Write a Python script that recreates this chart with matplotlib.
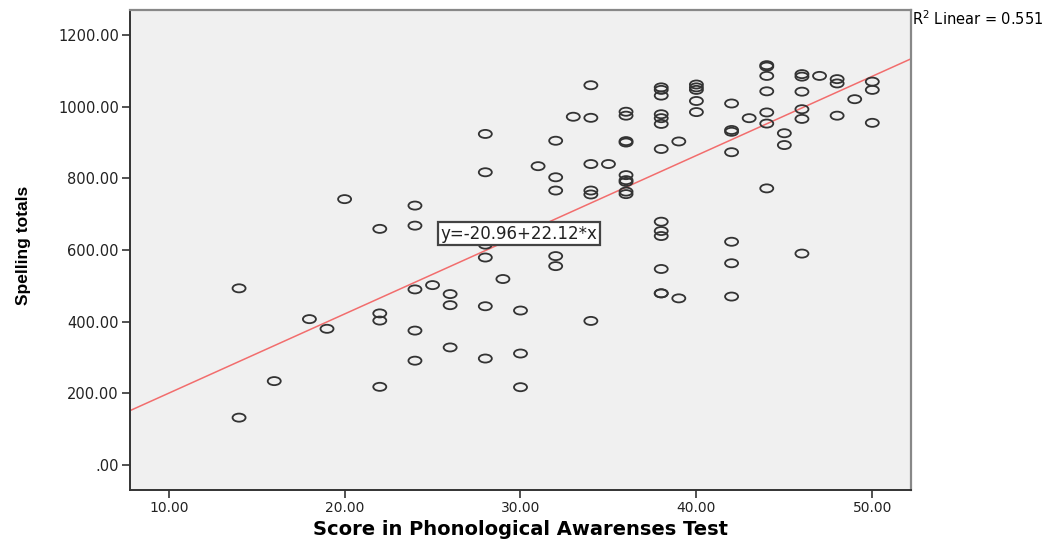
import matplotlib
matplotlib.use('Agg')
import matplotlib.pyplot as plt
import numpy as np
from matplotlib.path import Path
from matplotlib.transforms import Affine2D


# Phonological awareness score vs spelling totals
score = [14, 14, 16, 18, 19, 20, 22, 22, 22, 22,
         24, 24, 24, 24, 24, 25, 26, 26, 26,
         28, 28, 28, 28, 28, 28, 29, 30, 30, 30,
         31, 32, 32, 32, 32, 32, 33,
         34, 34, 34, 34, 34, 34, 35,
         36, 36, 36, 36, 36, 36, 36, 36, 36,
         38, 38, 38, 38, 38, 38, 38, 38, 38, 38, 38, 38, 38,
         39, 39, 40, 40, 40, 40, 40,
         42, 42, 42, 42, 42, 42, 42, 43,
         44, 44, 44, 44, 44, 44, 44, 45, 45,
         46, 46, 46, 46, 46, 46, 47, 48, 48, 48, 49, 50, 50, 50]
spelling = [132, 493, 234, 407, 380, 742, 659, 423, 403, 218,
            724, 668, 490, 375, 291, 502, 477, 446, 328,
            924, 817, 615, 579, 443, 297, 519, 431, 311, 217,
            834, 905, 803, 766, 583, 555, 972,
            1060, 969, 840, 766, 755, 402, 840,
            986, 975, 904, 900, 809, 795, 790, 763, 756,
            1054, 1047, 1031, 979, 968, 952, 882, 679, 653, 639, 547, 479, 479,
            903, 465, 1062, 1054, 1047, 1016, 985,
            1009, 935, 930, 873, 623, 563, 470, 968,
            1116, 1112, 1086, 1043, 984, 953, 772, 926, 893,
            1091, 1084, 1042, 993, 966, 590, 1086, 1077, 1065, 975, 1021, 1070, 1047, 955]

intercept = -20.96
slope = 22.12
r2 = 0.551

x_ticks = [10, 20, 30, 40, 50]
y_ticks = [0, 200, 400, 600, 800, 1000, 1200]

fig = plt.figure(figsize=(10.58, 5.40), dpi=100)
ax = fig.add_axes([130 / 1058, 50 / 540, 781 / 1058, 480 / 540])
ax.set_facecolor('#f0f0f0')

# flat open circle like SPSS
circ = Path.unit_circle()
ellipse = Affine2D().scale(1.0, 0.62).transform_path(circ)
ax.scatter(score, spelling, marker=ellipse, s=88, facecolors='none',
           edgecolors='#333333', linewidths=1.3, zorder=3)

ax.set_xlim(7.8, 52.2)
ax.set_ylim(-70, 1270)

xs = np.array(ax.get_xlim())
ax.plot(xs, intercept + slope * xs, color='#f26d6d', lw=1.1, zorder=2)

ax.text(29.9, 645, 'y=-20.96+22.12*x', ha='center', va='center', fontsize=12,
        family='DejaVu Sans', color='#222222', zorder=5,
        bbox=dict(boxstyle='square,pad=0.15', fc='white', ec='#444444', lw=1.6))

ax.set_xticks(x_ticks)
ax.set_xticklabels(['%.2f' % v for v in x_ticks])
ax.set_yticks(y_ticks)
ax.set_yticklabels(['.00' if v == 0 else '%.2f' % v for v in y_ticks])
ax.tick_params(length=6, width=1.2, color='#333333')
ax.tick_params(axis='x', labelsize=10, pad=2)
ax.tick_params(axis='y', labelsize=10.5, pad=2)
for lab in ax.get_xticklabels() + ax.get_yticklabels():
    lab.set_family('DejaVu Sans')
    lab.set_color('#222222')

for side in ['left', 'bottom']:
    ax.spines[side].set_color('#333333')
    ax.spines[side].set_linewidth(1.4)
for side in ['top', 'right']:
    ax.spines[side].set_color('#888888')
    ax.spines[side].set_linewidth(1.6)

ax.set_xlabel('Score in Phonological Awarenses Test', fontsize=14, fontweight='bold',
              family='DejaVu Sans')
ax.xaxis.set_label_coords(0.5, -(520 - 490) / 480)
ax.set_ylabel('Spelling totals', fontsize=12.5, fontweight='bold',
              family=['Liberation Sans Narrow', 'Liberation Sans'])
ax.yaxis.set_label_coords(-(130 - 31) / 781, 0.51)

fig.text(912 / 1058, 1 - 19 / 540, 'R$^2$ Linear = 0.551', fontsize=10.5,
         family='DejaVu Sans', va='center', ha='left')

fig.savefig('out.png', dpi=100)
